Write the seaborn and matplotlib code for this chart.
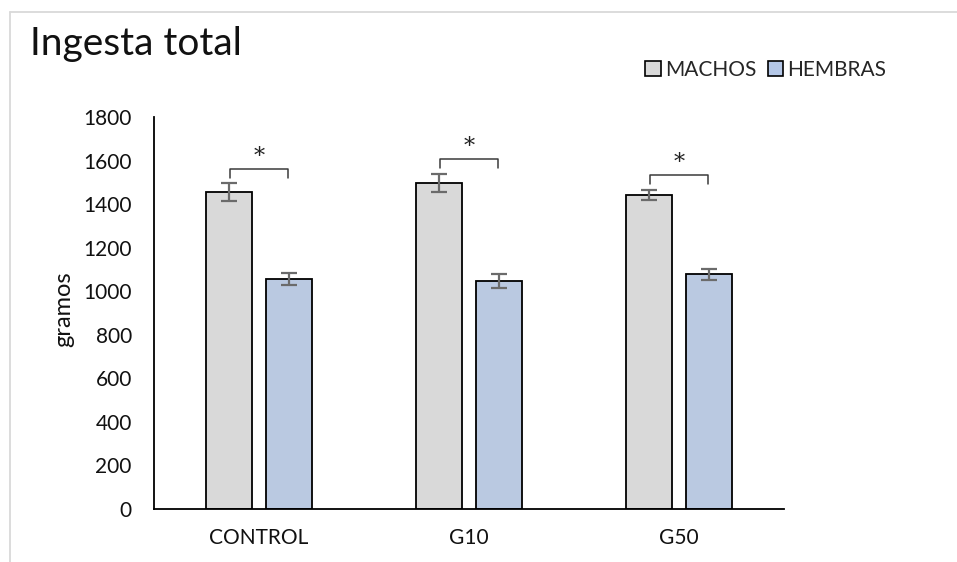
import matplotlib
matplotlib.use("Agg")
import matplotlib.pyplot as plt
import matplotlib.patches as mpatches
from matplotlib.lines import Line2D
import seaborn as sns
import pandas as pd

# Total intake per group, males vs females (grams, mean ± error)
categories = ["CONTROL", "G10", "G50"]
machos = [1455, 1497, 1442]
hembras = [1055, 1047, 1077]
machos_err = [40, 42, 22]
hembras_err = [28, 32, 25]
# height of the significance bracket above each pair
bracket_tops = [1561, 1607, 1534]
sexes = ["MACHOS", "HEMBRAS"]
colors = ["#d9d9d9", "#b4c7e7"]

df = pd.DataFrame({
    "grupo": categories * 2,
    "sexo": [sexes[0]] * 3 + [sexes[1]] * 3,
    "gramos": machos + hembras,
})

sns.set_theme(style="white")
plt.rcParams["font.family"] = ["Lato", "DejaVu Sans"]

fig = plt.figure(figsize=(9.57, 5.62), dpi=100)
ax = fig.add_axes([154 / 957, 1 - 509 / 562, 630 / 957, 392 / 562])

sns.barplot(data=df, x="grupo", y="gramos", hue="sexo", order=categories,
            hue_order=sexes, palette=colors, width=0.571, gap=0.22,
            errorbar=None, edgecolor="black", linewidth=1.3,
            legend=False, ax=ax)

errs = [machos_err, hembras_err]
vals = [machos, hembras]
bar_containers = list(ax.containers)
centers = []
for k, cont in enumerate(bar_containers):
    xs = [p.get_x() + p.get_width() / 2 for p in cont.patches]
    centers.append(xs)
    ax.errorbar(xs, vals[k], yerr=errs[k], fmt="none", ecolor="#6b6b6b",
                elinewidth=1.6, capsize=5.5, capthick=1.6, zorder=5)

# significance brackets
for i in range(len(categories)):
    x0, x1 = centers[0][i] + 0.005, centers[1][i] - 0.005
    top = bracket_tops[i]
    ax.plot([x0, x0, x1, x1], [top - 41, top, top, top - 41],
            color="#3a3a3a", lw=1.1, zorder=6)
    ax.text((x0 + x1) / 2, top + 5, "*", ha="center", va="bottom",
            fontsize=16, family="DejaVu Serif", color="#222222")

ax.set_ylim(0, 1800)
ax.set_yticks(range(0, 1801, 200))
ax.set_xlim(-0.5, 2.5)
ax.set_xlabel("")
ax.set_ylabel("gramos", fontsize=17, color="#111111")
ax.yaxis.set_label_coords(-0.127, 0.51)
ax.tick_params(axis="both", length=0, labelsize=15, colors="#111111")
ax.tick_params(axis="y", pad=16)
ax.tick_params(axis="x", pad=14)
for s in ["top", "right"]:
    ax.spines[s].set_visible(False)
for s in ["left", "bottom"]:
    ax.spines[s].set_color("black")
    ax.spines[s].set_linewidth(1.3)

handles = [mpatches.Patch(facecolor=c, edgecolor="black", linewidth=1.2, label=l)
           for c, l in zip(colors, sexes)]
fig.legend(handles=handles, loc="center left", bbox_to_anchor=(645 / 957, 1 - 70 / 562),
           ncol=2, frameon=False, fontsize=15, handlelength=0.75, handleheight=0.75,
           handletextpad=0.2, columnspacing=0.55, borderaxespad=0, borderpad=0)

fig.text(30 / 957, 1 - 55 / 562, "Ingesta total", fontsize=28, ha="left",
         va="baseline", color="#111111")

# light frame on the top and left edges
fig.add_artist(Line2D([10 / 957, 1], [1 - 12 / 562, 1 - 12 / 562],
                      color="#d9d9d9", lw=1.3, transform=fig.transFigure))
fig.add_artist(Line2D([10 / 957, 10 / 957], [0, 1 - 12 / 562],
                      color="#d9d9d9", lw=1.3, transform=fig.transFigure))

fig.savefig("out.png", dpi=100)
